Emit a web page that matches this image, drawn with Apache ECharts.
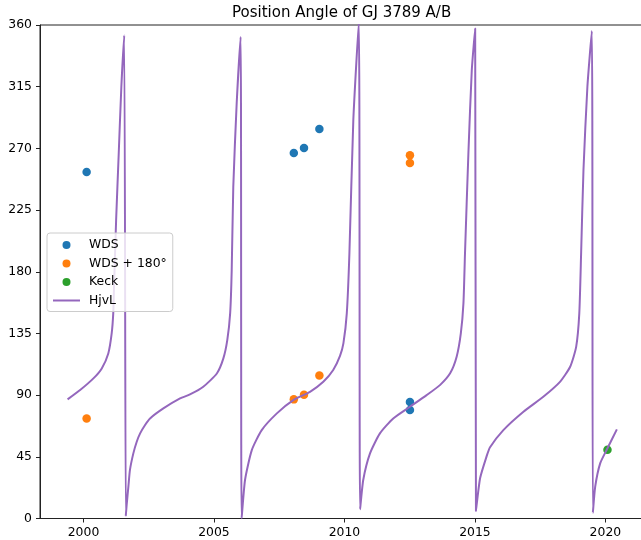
<!DOCTYPE html>
<html><head><meta charset="utf-8">
<script src="https://cdn.jsdelivr.net/npm/echarts@6/dist/echarts.min.js"></script>
<style>html,body{margin:0;padding:0;background:#fff}#c{width:641px;height:540px}</style>
</head><body><div id="c"></div>
<script>
const titleText = 'Position Angle of GJ 3789 A/B';
const xTicks = [2000, 2005, 2010, 2015, 2020];
const yTicks = [0, 45, 90, 135, 180, 225, 270, 315, 360];

const wdsYears = [2000.12, 2008.06, 2008.45, 2009.04, 2012.51, 2012.51];
const wdsPA    = [252.8, 266.7, 270.3, 284.2, 84.9, 79.1];

const wds180Years = [2000.12, 2008.06, 2008.45, 2009.04, 2012.51, 2012.51];
const wds180PA    = [73.0, 86.9, 90.3, 104.4, 265.0, 259.4];

const keckYears = [2020.08];
const keckPA    = [50.2];

const hjvlYears = [
  1999.39, 1999.87, 2000.38, 2000.70, 2000.95, 2001.08, 2001.14, 2001.17, 2001.25, 2001.35, 2001.45, 2001.56,
  2001.62, 2001.66, 2001.72, 2001.78, 2001.91, 2002.04, 2002.17, 2002.36, 2002.55, 2003.06, 2003.70, 2004.08,
  2004.59, 2005.11, 2005.36, 2005.51, 2005.62, 2005.68, 2005.74, 2005.87, 2006.02,
  2006.06, 2006.19, 2006.45, 2006.83, 2007.41, 2008.04, 2008.68, 2009.19, 2009.57, 2009.83, 2009.96, 2010.09,
  2010.19, 2010.34, 2010.55,
  2010.60, 2010.72, 2010.98, 2011.36, 2011.87, 2012.51, 2013.15, 2013.66, 2014.05, 2014.30, 2014.46, 2014.56,
  2014.62, 2014.75, 2014.88, 2015.01,
  2015.04, 2015.20, 2015.45, 2015.58, 2016.09, 2016.86, 2017.62, 2018.26, 2018.65, 2018.88, 2019.00, 2019.07,
  2019.16, 2019.31, 2019.48,
  2019.52, 2019.61, 2019.80, 2020.08, 2020.44
];
const hjvlPA = [
  86.9, 93.7, 102.2, 109.5, 120.4, 135.0, 149.6, 169.0, 217.6, 266.2, 314.8, 352.5,
  2.0, 11.1, 23.2, 35.4, 47.5, 56.0, 62.1, 68.2, 73.0, 80.3, 87.6, 90.5,
  96.1, 105.8, 116.8, 130.1, 149.6, 181.2, 241.9, 302.7, 351.3,
  0.1, 28.1, 49.9, 64.5, 76.7, 86.4, 92.4, 99.7, 108.3, 118.6, 127.7, 149.6,
  193.3, 290.5, 362,
  6.7, 28.1, 47.5, 62.1, 73.0, 81.5, 90.0, 97.3, 105.9, 118.0, 135.0, 156.9,
  193.3, 266.2, 327.0, 357.4,
  5.7, 29.5, 45.5, 52.0, 64.5, 77.9, 88.8, 99.7, 110.7, 125.2, 149.6, 193.3,
  254.1, 314.8, 355.6,
  4.2, 23.2, 40.2, 51.2, 65.0
];

const pairs = (xs, ys) => xs.map((x, i) => [x, ys[i]]);
const FONT = 'DejaVu Sans';

const chart = echarts.init(document.getElementById('c'), null, {renderer: 'canvas'});
chart.setOption({
  backgroundColor: '#fff',
  animation: false,
  title: {
    text: titleText, left: 232, top: 6, padding: 0,
    textStyle: {fontFamily: FONT, fontSize: 15, fontWeight: 'normal', color: '#000'}
  },
  grid: {left: 40, top: 25, width: 608.7, height: 493.5, show: true, borderColor: '#222', borderWidth: 1,
         containLabel: false, outerBoundsMode: 'none'},
  xAxis: {
    type: 'value', min: 1998.333, max: 2021.66,
    axisLine: {show: true, lineStyle: {color: '#222', width: 1}},
    axisTick: {show: true, length: 4, customValues: xTicks, lineStyle: {color: '#222'}},
    axisLabel: {customValues: xTicks, margin: 8, color: '#000', fontFamily: FONT, fontSize: 12.4,
                formatter: v => String(v)},
    splitLine: {show: false}
  },
  yAxis: {
    type: 'value', min: 0, max: 360, interval: 45,
    axisLine: {show: true, lineStyle: {color: '#222', width: 1}},
    axisTick: {show: true, length: 4, customValues: yTicks, lineStyle: {color: '#222'}},
    axisLabel: {customValues: yTicks, margin: 8, color: '#000', fontFamily: FONT, fontSize: 12.4,
                formatter: v => String(v)},
    splitLine: {show: false}
  },
  legend: {
    orient: 'vertical', left: 47, top: 233,
    padding: [6, 6, 5, 5], itemGap: 6.5, itemWidth: 27, itemHeight: 8,
    backgroundColor: 'rgba(255,255,255,0.8)', borderColor: '#cccccc', borderWidth: 1, borderRadius: 3,
    textStyle: {fontFamily: FONT, fontSize: 12.4, color: '#000', padding: [0, 0, 0, 4]},
    data: [
      {name: 'WDS', icon: 'circle'},
      {name: 'WDS + 180°', icon: 'circle'},
      {name: 'Keck', icon: 'circle'},
      {name: 'HjvL', itemStyle: {opacity: 0}}
    ]
  },
  series: [
    {name: 'WDS', type: 'scatter', data: pairs(wdsYears, wdsPA), symbolSize: 8.5, itemStyle: {color: '#1f77b4', opacity: 1}},
    {name: 'WDS + 180°', type: 'scatter', data: pairs(wds180Years, wds180PA), symbolSize: 8.5, itemStyle: {color: '#ff7f0e', opacity: 1}},
    {name: 'Keck', type: 'scatter', data: pairs(keckYears, keckPA), symbolSize: 8.5, itemStyle: {color: '#2ca02c', opacity: 1}},
    {name: 'HjvL', type: 'line', data: pairs(hjvlYears, hjvlPA), showSymbol: false, symbol: 'none', clip: true,
     smooth: 0.2, lineStyle: {color: '#9467bd', width: 2}, itemStyle: {color: '#9467bd'}}
  ]
});
</script>
</body></html>
